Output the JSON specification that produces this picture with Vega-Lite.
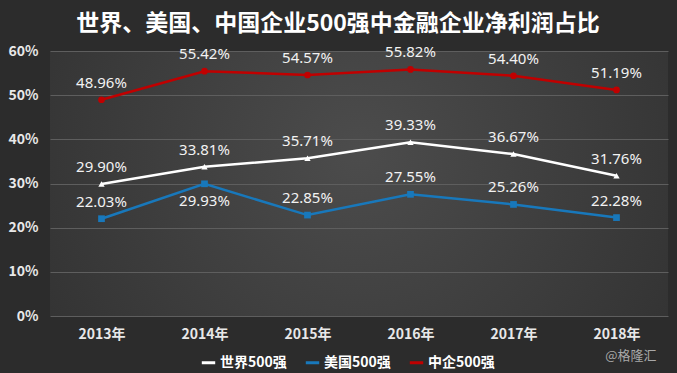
{
  "$schema": "https://vega.github.io/schema/vega-lite/v6.json",
  "width": 618,
  "height": 265,
  "autosize": {"type": "none"},
  "padding": {"left": 50, "top": 51, "right": 9, "bottom": 57},
  "background": "#2c2c2c",
  "title": {
    "text": "世界、美国、中国企业500强中金融企业净利润占比",
    "font": "Noto Sans CJK SC",
    "fontSize": 23,
    "fontWeight": "bold",
    "color": "#ffffff",
    "anchor": "middle",
    "frame": "bounds",
    "offset": 8
  },
  "config": {
    "view": {
      "stroke": null,
      "fill": {
        "gradient": "radial",
        "x1": 0.5, "y1": 0.45, "r1": 0,
        "x2": 0.5, "y2": 0.45, "r2": 0.75,
        "stops": [
          {"offset": 0, "color": "#4c4c4c"},
          {"offset": 1, "color": "#2c2c2c"}
        ]
      }
    },
    "font": "Noto Sans CJK SC"
  },
  "data": {
    "values": [
      {"year": "2013年", "series": "世界500强", "value": 0.2990},
      {"year": "2014年", "series": "世界500强", "value": 0.3381},
      {"year": "2015年", "series": "世界500强", "value": 0.3571},
      {"year": "2016年", "series": "世界500强", "value": 0.3933},
      {"year": "2017年", "series": "世界500强", "value": 0.3667},
      {"year": "2018年", "series": "世界500强", "value": 0.3176},
      {"year": "2013年", "series": "美国500强", "value": 0.2203},
      {"year": "2014年", "series": "美国500强", "value": 0.2993},
      {"year": "2015年", "series": "美国500强", "value": 0.2285},
      {"year": "2016年", "series": "美国500强", "value": 0.2755},
      {"year": "2017年", "series": "美国500强", "value": 0.2526},
      {"year": "2018年", "series": "美国500强", "value": 0.2228},
      {"year": "2013年", "series": "中企500强", "value": 0.4896},
      {"year": "2014年", "series": "中企500强", "value": 0.5542},
      {"year": "2015年", "series": "中企500强", "value": 0.5457},
      {"year": "2016年", "series": "中企500强", "value": 0.5582},
      {"year": "2017年", "series": "中企500强", "value": 0.5440},
      {"year": "2018年", "series": "中企500强", "value": 0.5119}
    ]
  },
  "encoding": {
    "x": {
      "field": "year",
      "type": "ordinal",
      "scale": {"paddingInner": 0, "paddingOuter": 0},
      "axis": {
        "labelAngle": 0,
        "labelFont": "Noto Sans CJK SC",
        "labelFontSize": 14,
        "labelFontWeight": "bold",
        "labelColor": "#e8e8e8",
        "labelPadding": 11,
        "ticks": false,
        "domain": false,
        "grid": false,
        "title": "@格隆汇",
        "titleFont": "Noto Sans CJK SC",
        "titleFontSize": 13,
        "titleFontWeight": "normal",
        "titleColor": "#a8a8a8",
        "titleX": 606,
        "titleY": 33,
        "titleAlign": "right"
      }
    },
    "y": {
      "field": "value",
      "type": "quantitative",
      "scale": {"domain": [0, 0.6]},
      "axis": {
        "format": ".0%",
        "values": [0, 0.1, 0.2, 0.3, 0.4, 0.5, 0.6],
        "labelOverlap": false,
        "labelFont": "Noto Sans CJK SC",
        "labelFontSize": 14,
        "labelFontWeight": "bold",
        "labelColor": "#e8e8e8",
        "labelPadding": 12,
        "ticks": false,
        "domain": false,
        "gridColor": "#5e5e5e",
        "gridWidth": 1,
        "title": null
      }
    }
  },
  "layer": [
    {
      "mark": {"type": "line", "strokeWidth": 2.5},
      "encoding": {
        "color": {
          "field": "series",
          "type": "nominal",
          "scale": {
            "domain": ["世界500强", "美国500强", "中企500强"],
            "range": ["#ffffff", "#1878bb", "#c00000"]
          },
          "legend": {
            "orient": "none",
            "legendX": 150,
            "legendY": 303,
            "title": null,
            "direction": "horizontal",
            "symbolType": "stroke",
            "symbolStrokeWidth": 3,
            "symbolSize": 180,
            "labelOffset": 3,
            "labelFont": "Noto Sans CJK SC",
            "labelFontSize": 14,
            "labelFontWeight": "bold",
            "labelColor": "#ffffff",
            "columnPadding": 12
          }
        }
      }
    },
    {
      "transform": [{"filter": "datum.series == '世界500强'"}],
      "mark": {"type": "point", "filled": true, "size": 40, "opacity": 1, "shape": "triangle-up"},
      "encoding": {"color": {"field": "series", "type": "nominal"}}
    },
    {
      "transform": [{"filter": "datum.series == '美国500强'"}],
      "mark": {"type": "point", "filled": true, "size": 45, "opacity": 1, "shape": "square"},
      "encoding": {"color": {"field": "series", "type": "nominal"}}
    },
    {
      "transform": [{"filter": "datum.series == '中企500强'"}],
      "mark": {"type": "point", "filled": true, "size": 45, "opacity": 1, "shape": "circle"},
      "encoding": {"color": {"field": "series", "type": "nominal"}}
    },
    {
      "transform": [{"filter": "!(datum.series == '美国500强' && datum.year == '2014年')"}],
      "mark": {"type": "text", "dy": -17, "fontSize": 15, "color": "#f2f2f2", "font": "Noto Sans"},
      "encoding": {
        "text": {"field": "value", "type": "quantitative", "format": ".2%"}
      }
    },
    {
      "transform": [{"filter": "datum.series == '美国500强' && datum.year == '2014年'"}],
      "mark": {"type": "text", "dy": 17, "fontSize": 15, "color": "#f2f2f2", "font": "Noto Sans"},
      "encoding": {
        "text": {"field": "value", "type": "quantitative", "format": ".2%"}
      }
    }
  ]
}
